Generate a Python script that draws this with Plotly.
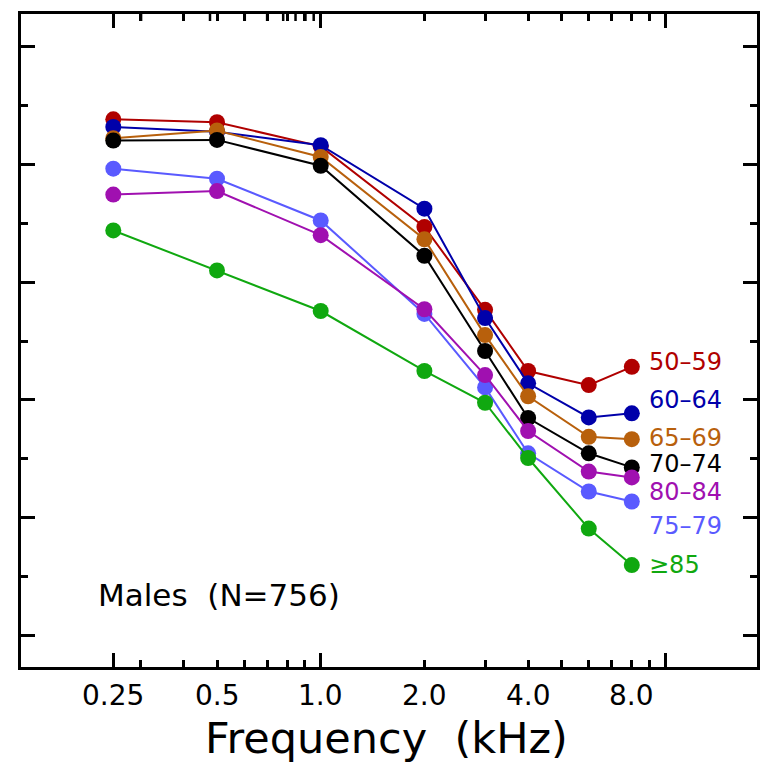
import math
import plotly.graph_objects as go

# ---- data ----
freqs_khz = [0.25, 0.5, 1.0, 2.0, 3.0, 4.0, 6.0, 8.0]
groups = ["50–59", "60–64", "65–69", "70–74", "75–79", "80–84", "≥85"]
thr_50_59 = [12.3, 12.8, 16.9, 30.6, 44.7, 55.1, 57.5, 54.4]
thr_60_64 = [13.6, 14.4, 16.7, 27.5, 46.1, 57.2, 63.0, 62.3]
thr_65_69 = [15.5, 14.2, 18.7, 32.7, 49.0, 59.4, 66.3, 66.7]
thr_70_74 = [15.9, 15.8, 20.2, 35.5, 51.7, 63.1, 69.1, 71.5]
thr_75_79 = [20.7, 22.4, 29.5, 45.4, 57.9, 69.1, 75.6, 77.3]
thr_80_84 = [25.1, 24.5, 32.0, 44.6, 55.8, 65.3, 72.2, 73.2]
thr_85_up = [31.2, 38.0, 44.9, 55.1, 60.5, 69.9, 81.9, 88.1]
# label positions (same order as groups)
label_y = [53.5, 60.0, 66.5, 70.9, 81.5, 75.7, 88.1]
colors = ["#b00000", "#0000aa", "#b8600c", "#000000", "#5a5aff", "#a010b0", "#10a810"]

x_label_vals = [0.25, 0.5, 1.0, 2.0, 4.0, 8.0]
x_label_text = ["0.25", "0.5", "1.0", "2.0", "4.0", "8.0"]
x_long_vals = [0.25, 1.0, 10.0]
x_short_vals = [0.3, 0.4, 0.5, 0.6, 0.7, 0.8, 0.9, 2, 3, 4, 5, 6, 7, 8, 9]

series = [thr_50_59, thr_60_64, thr_65_69, thr_70_74, thr_75_79, thr_80_84, thr_85_up]

FONT = "DejaVu Sans"
y_range = [105.44, -5.61]
px_per_unit = 5.88

fig = go.Figure()
for name, ys, col in zip(groups, series, colors):
    fig.add_trace(go.Scatter(
        x=freqs_khz, y=ys, mode="lines+markers", name=name,
        line=dict(color=col, width=2),
        marker=dict(color=col, size=16),
        showlegend=False, cliponaxis=False,
    ))

for name, yl, col in zip(groups, label_y, colors):
    fig.add_annotation(x=math.log10(freqs_khz[-1]), y=yl, xref="x", yref="y",
                       text=name, showarrow=False, xanchor="left", yanchor="middle",
                       xshift=15, font=dict(family=FONT, size=24, color=col))

# x tick labels
for v, t in zip(x_label_vals, x_label_text):
    fig.add_annotation(x=math.log10(v), y=0, xref="x", yref="paper", text=t,
                       showarrow=False, xanchor="center", yanchor="middle",
                       yshift=-28, font=dict(family=FONT, size=28, color="black"))

# top-edge tick marks (mirror of the x ticks); log axis -> positions in log10 units
top = y_range[1]
for vals, ln in ((x_long_vals, 14), (x_short_vals, 7)):
    for v in vals:
        fig.add_shape(type="line", xref="x", yref="y",
                      x0=math.log10(v), x1=math.log10(v),
                      y0=top, y1=top + ln / px_per_unit,
                      line=dict(color="black", width=2.5), layer="above")

# x axis title
fig.add_annotation(x=0.497, y=0, xref="paper", yref="paper", text="Frequency  (kHz)",
                   showarrow=False, xanchor="center", yanchor="middle",
                   yshift=-71, font=dict(family=FONT, size=43, color="black"))

fig.add_annotation(x=0.102, y=0.11, xref="paper", yref="paper", text="Males  (N=756)",
                   showarrow=False, xanchor="left", yanchor="middle",
                   font=dict(family=FONT, size=31, color="black"))

xr = [-0.870, 1.2665]
fig.update_layout(
    width=769, height=772,
    margin=dict(l=13, r=20, t=6, b=113, autoexpand=False),
    paper_bgcolor="white", plot_bgcolor="white",
    font=dict(family=FONT, color="black"),
    xaxis=dict(type="log", range=xr, tickmode="array", tickvals=x_long_vals,
               showticklabels=False, ticks="inside", ticklen=14, tickwidth=2.5,
               tickcolor="black", showgrid=False, zeroline=False, automargin=False,
               showline=True, linecolor="black", linewidth=3, mirror="ticks",
               minor=dict(tickmode="array", tickvals=x_short_vals, ticks="inside",
                          ticklen=7, tickwidth=2.5, tickcolor="black", showgrid=False)),
    yaxis=dict(range=y_range, tickmode="linear", tick0=0, dtick=20,
               ticks="inside", ticklen=14, tickwidth=2.5, tickcolor="black",
               showticklabels=False, showline=True, linecolor="black", linewidth=3,
               mirror="ticks", showgrid=False, zeroline=False, automargin=False,
               minor=dict(dtick=10, tick0=0, ticks="inside", ticklen=7, tickwidth=2.5,
                          tickcolor="black", showgrid=False)),
)

fig.write_html("out.html")
